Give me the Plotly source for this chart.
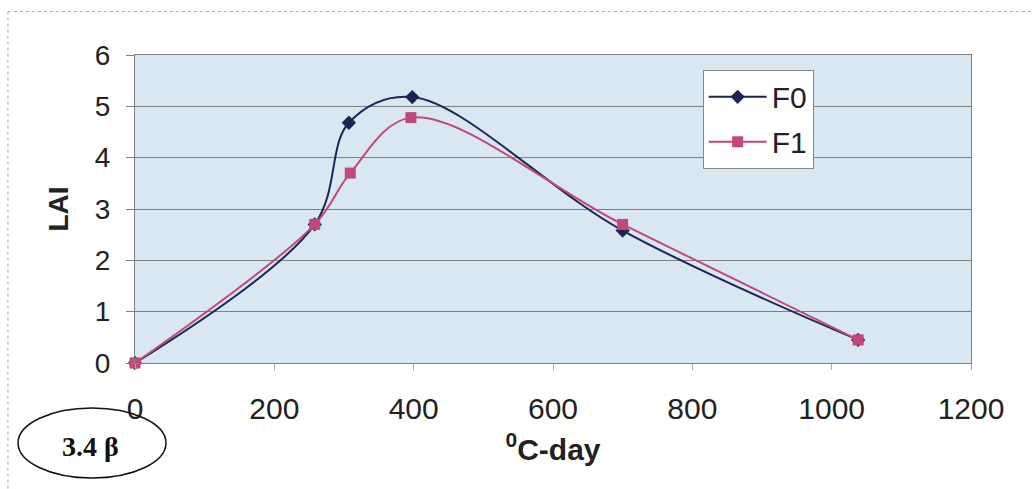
import plotly.graph_objects as go

x_f0 = [0, 258, 307, 398, 700, 1038]
y_f0 = [0, 2.7, 4.68, 5.18, 2.58, 0.45]
x_f1 = [0, 258, 309, 396, 700, 1038]
y_f1 = [0, 2.7, 3.7, 4.78, 2.7, 0.45]

x_ticks = [0, 200, 400, 600, 800, 1000, 1200]
y_ticks = [0, 1, 2, 3, 4, 5, 6]

fig = go.Figure()
fig.add_trace(go.Scatter(
    x=x_f0, y=y_f0, name="F0", mode="lines+markers", legendgroup="a",
    line=dict(color="#1c2556", width=2, shape="spline", smoothing=1.0),
    marker=dict(symbol="diamond", size=11, color="#1c2556"),
    cliponaxis=False,
))
fig.add_trace(go.Scatter(
    x=x_f1, y=y_f1, name="F1", mode="lines+markers", legendgroup="b",
    line=dict(color="#c4477c", width=2, shape="spline", smoothing=1.0),
    marker=dict(symbol="square", size=11, color="#c4477c"),
    cliponaxis=False,
))

fig.update_layout(
    width=1032, height=489,
    margin=dict(l=135, r=61, t=55, b=126),
    paper_bgcolor="white",
    plot_bgcolor="#d9e7f3",
    font=dict(family="Liberation Sans, Arial", size=28, color="#222"),
    showlegend=True,
    legend=dict(
        x=0.679, y=0.952, xanchor="left", yanchor="top",
        bgcolor="white", bordercolor="#888", borderwidth=1,
        font=dict(size=30, color="#222"),
        itemwidth=58, traceorder="grouped", tracegroupgap=3,
    ),
    xaxis=dict(
        range=[0, 1200], tickvals=x_ticks, ticktext=[str(v) for v in x_ticks],
        showgrid=False, zeroline=False,
        showline=True, linecolor="#808080", linewidth=1, mirror=True,
        ticks="outside", ticklen=6, tickcolor="#aaa",
        ticklabelstandoff=13,
        tickfont=dict(size=30),
        title=dict(text="<b><sup>0</sup>C-day</b>", font=dict(size=30), standoff=14),
    ),
    yaxis=dict(
        range=[0, 6], tickvals=y_ticks,
        showgrid=True, gridcolor="#7f7f7f", gridwidth=1, zeroline=False,
        showline=True, linecolor="#808080", linewidth=1, mirror=True,
        ticks="outside", ticklen=8, tickcolor="#808080",
        ticklabelstandoff=10,
        tickfont=dict(size=28),
        title=dict(text="<b>LAI</b>", font=dict(size=28), standoff=18),
    ),
)

fig.add_shape(type="line", xref="paper", yref="paper",
              x0=-0.152, x1=1.08, y0=1.141, y1=1.141,
              line=dict(color="#aaa", width=1, dash="dot"))
fig.add_shape(type="line", xref="paper", yref="paper",
              x0=-0.152, x1=-0.152, y0=1.141, y1=-0.41,
              line=dict(color="#aaa", width=1, dash="dot"))

fig.add_shape(type="circle", xref="paper", yref="paper",
              x0=(18 - 135) / 836, x1=(166 - 135) / 836,
              y0=(363 - 478) / 308, y1=(363 - 408) / 308,
              line=dict(color="#111", width=1.5), fillcolor="rgba(0,0,0,0)")
fig.add_annotation(xref="paper", yref="paper",
                   x=(90 - 135) / 836, y=(363 - 446) / 308,
                   xanchor="center", yanchor="middle",
                   text="<b>3.4 β</b>", showarrow=False,
                   font=dict(family="Liberation Serif, Times New Roman", size=28, color="#111"))

fig.write_html("out.html")
